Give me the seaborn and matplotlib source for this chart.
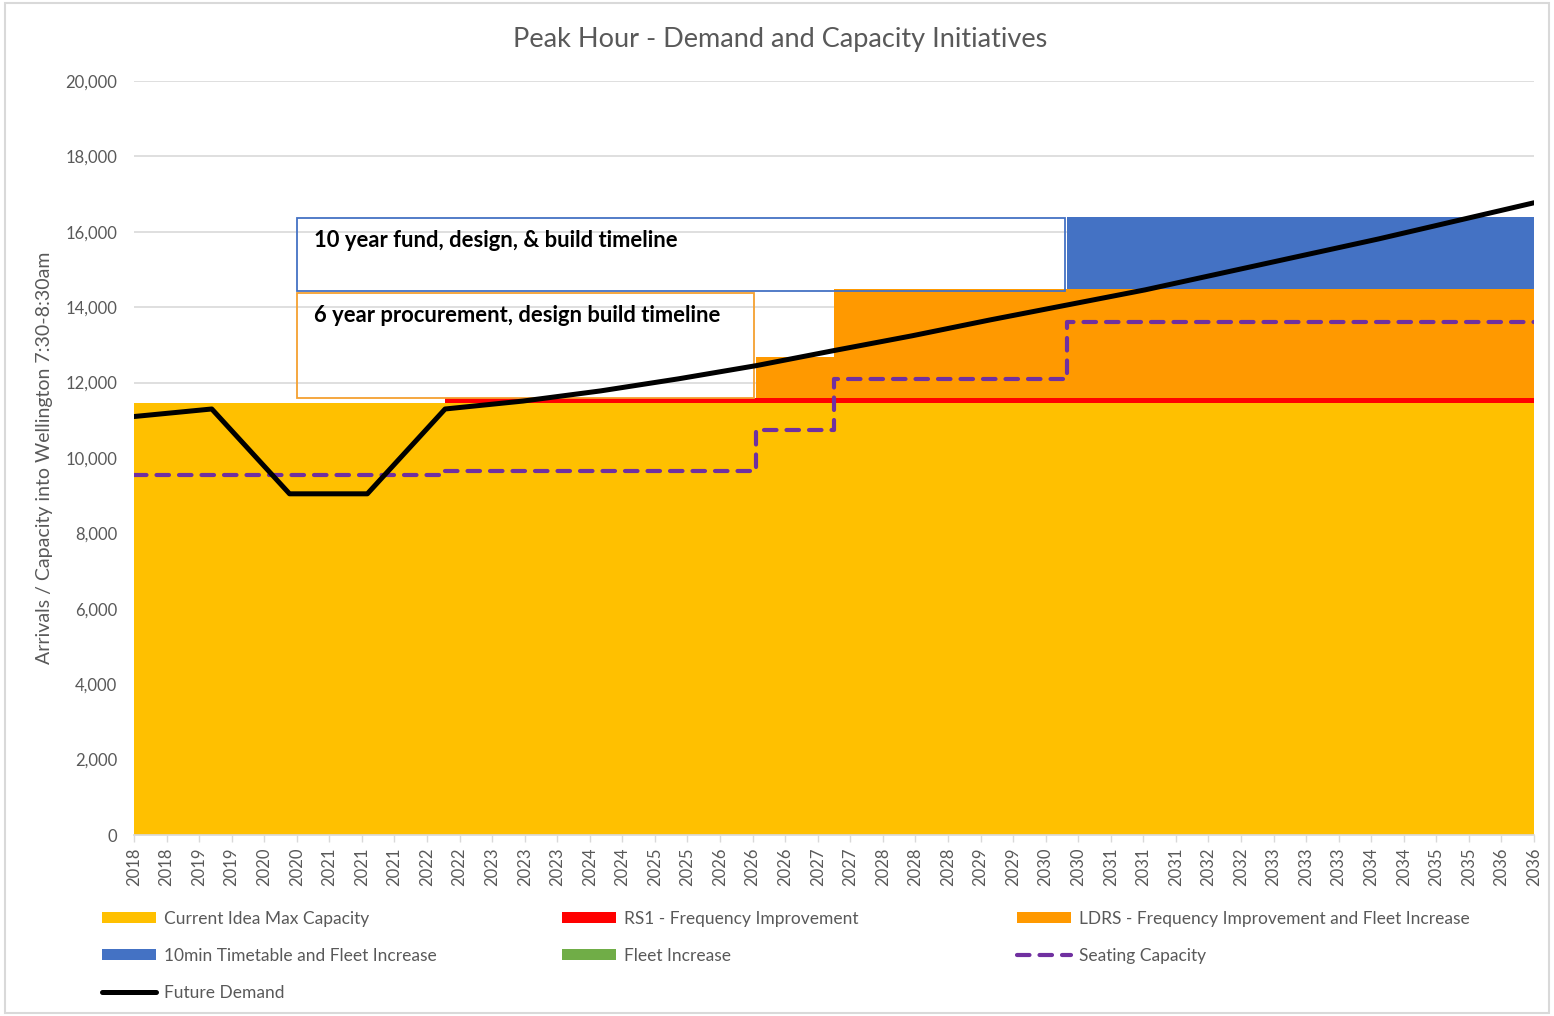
import matplotlib
matplotlib.use("Agg")
import matplotlib.pyplot as plt
from matplotlib.patches import Patch, Rectangle
from matplotlib.lines import Line2D
import numpy as np
import pandas as pd
import seaborn as sns

# yearly points (mid-year), date axis runs mid-2018 .. mid-2036
years = [2018.5, 2019.5, 2020.5, 2021.5, 2022.5, 2023.5, 2024.5, 2025.5, 2026.5, 2027.5,
         2028.5, 2029.5, 2030.5, 2031.5, 2032.5, 2033.5, 2034.5, 2035.5, 2036.5]

future_demand = [11100, 11300, 9050, 9050, 11300, 11510, 11780, 12100, 12450, 12850,
                 13240, 13660, 14060, 14460, 14910, 15360, 15810, 16290, 16770]

seating_capacity = [9550, 9550, 9550, 9550, 9650, 9650, 9650, 9650, 10750, 12100,
                    12100, 12100, 13600, 13600, 13600, 13600, 13600, 13600, 13600]

# stacked capacity layers
current_capacity = [11450, 11450, 11450, 11450, 11450, 11450, 11450, 11450, 11450, 11450,
                    11450, 11450, 11450, 11450, 11450, 11450, 11450, 11450, 11450]
rs1_frequency = [0, 0, 0, 0, 150, 150, 150, 150, 150, 150,
                 150, 150, 150, 150, 150, 150, 150, 150, 150]
ldrs_frequency = [0, 0, 0, 0, 0, 0, 0, 0, 1080, 2880,
                  2880, 2880, 2880, 2880, 2880, 2880, 2880, 2880, 2880]
tenmin_timetable = [0, 0, 0, 0, 0, 0, 0, 0, 0, 0,
                    0, 0, 1900, 1900, 1900, 1900, 1900, 1900, 1900]
fleet_increase = [0, 0, 0, 0, 0, 0, 0, 0, 0, 0,
                  0, 0, 0, 0, 0, 0, 0, 0, 0]

tick_labels = ["2018", "2018", "2019", "2019", "2020", "2020", "2021", "2021", "2021",
               "2022", "2022", "2023", "2023", "2023", "2024", "2024", "2025", "2025",
               "2026", "2026", "2026", "2027", "2027", "2028", "2028", "2028", "2029",
               "2029", "2030", "2030", "2031", "2031", "2031", "2032", "2032", "2033",
               "2033", "2033", "2034", "2034", "2035", "2035", "2036", "2036"]

layers = [
    ("Current Idea Max Capacity", current_capacity, "#FFC000"),
    ("RS1 - Frequency Improvement", rs1_frequency, "#FF0000"),
    ("LDRS - Frequency Improvement and Fleet Increase", ldrs_frequency, "#FF9900"),
    ("10min Timetable and Fleet Increase", tenmin_timetable, "#4472C4"),
    ("Fleet Increase", fleet_increase, "#70AD47"),
]

df = pd.DataFrame({"year": years, "demand": future_demand, "seating": seating_capacity})

sns.set_theme(style="white")
plt.rcParams["font.family"] = ["Lato", "DejaVu Sans"]
grey = "#595959"

fig = plt.figure(figsize=(15.54, 10.16), dpi=100)
ax = fig.add_axes([134 / 1554, 1 - 835 / 1016, 1400 / 1554, 754 / 1016])

# stacked areas
base = np.zeros(len(years))
for name, vals, col in layers:
    top = base + np.array(vals)
    ax.fill_between(years, base, top, step="post", color=col, lw=0, zorder=1)
    base = top

# timeline boxes
ax.add_patch(Rectangle((2020.6, 14430), 9.87, 1930, fill=False, edgecolor="#4472C4",
                       lw=1.3, zorder=2))
ax.add_patch(Rectangle((2020.6, 11600), 5.87, 2780, fill=False, edgecolor="#F5A030",
                       lw=1.3, zorder=2))
ax.text(2020.81, 15760, "10 year fund, design, & build timeline", fontsize=15.8,
        fontweight="bold", color="black", va="center", ha="left", zorder=5)
ax.text(2020.81, 13770, "6 year procurement, design build timeline", fontsize=15.8,
        fontweight="bold", color="black", va="center", ha="left", zorder=5)

# lines
sns.lineplot(data=df, x="year", y="seating", ax=ax, color="#7030A0", lw=3,
             drawstyle="steps-post", zorder=3)
seat_line = ax.lines[-1]
seat_line.set_dashes([3, 2.4])
seat_line.set_dash_capstyle("round")
sns.lineplot(data=df, x="year", y="demand", ax=ax, color="black", lw=3.6, zorder=4)

ax.set_xlim(2018.5, 2036.5)
ax.set_ylim(0, 20000)
ax.set_xlabel("")
ax.set_ylabel("")
ax.set_yticks(range(0, 20001, 2000))
ax.yaxis.set_major_formatter(matplotlib.ticker.FuncFormatter(lambda v, p: f"{int(v):,}"))
ax.set_xticks(np.linspace(2018.5, 2036.5, len(tick_labels)))
ax.set_xticklabels(tick_labels, rotation=90)
ax.grid(axis="y", color="#D9D9D9", lw=1.2, zorder=0)
ax.set_axisbelow(True)
for s in ["top", "right", "left"]:
    ax.spines[s].set_visible(False)
ax.spines["bottom"].set_color("#D9D9D9")
ax.tick_params(axis="x", colors=grey, labelsize=12, length=5, width=1, color="#D9D9D9",
               bottom=True, pad=4)
ax.tick_params(axis="y", colors=grey, labelsize=12, length=0, pad=12)

fig.text(0.502, 1 - 39 / 1016, "Peak Hour - Demand and Capacity Initiatives",
         fontsize=19.5, color=grey, ha="center", va="center")
fig.text(45 / 1554, 1 - 458 / 1016, "Arrivals / Capacity into Wellington 7:30-8:30am",
         fontsize=14, color=grey, rotation=90, ha="center", va="center")

# legend in three columns
patch = {name: Patch(facecolor=col, edgecolor="none", label=name) for name, _, col in layers}
seat_h = Line2D([], [], color="#7030A0", lw=3, dashes=[3, 2.4], dash_capstyle="round",
                label="Seating Capacity")
demand_h = Line2D([], [], color="black", lw=3.6, solid_capstyle="round", label="Future Demand")
columns = [
    (102, [patch["Current Idea Max Capacity"], patch["10min Timetable and Fleet Increase"], demand_h]),
    (562, [patch["RS1 - Frequency Improvement"], patch["Fleet Increase"]]),
    (1017, [patch["LDRS - Frequency Improvement and Fleet Increase"], seat_h]),
]
for xpx, hs in columns:
    leg = fig.legend(handles=hs, loc="upper left", bbox_to_anchor=(xpx / 1554, 1 - 911 / 1016),
                     frameon=False, fontsize=12.5, borderpad=0, borderaxespad=0,
                     handlelength=3.1, handleheight=0.6, handletextpad=0.45,
                     labelspacing=1.2)
    for t in leg.get_texts():
        t.set_color(grey)

fig.patches.append(Rectangle((0.003, 0.003), 0.994, 0.994, transform=fig.transFigure,
                             fill=False, edgecolor="#D9D9D9", lw=1.5))

fig.savefig("out.png", dpi=100)
